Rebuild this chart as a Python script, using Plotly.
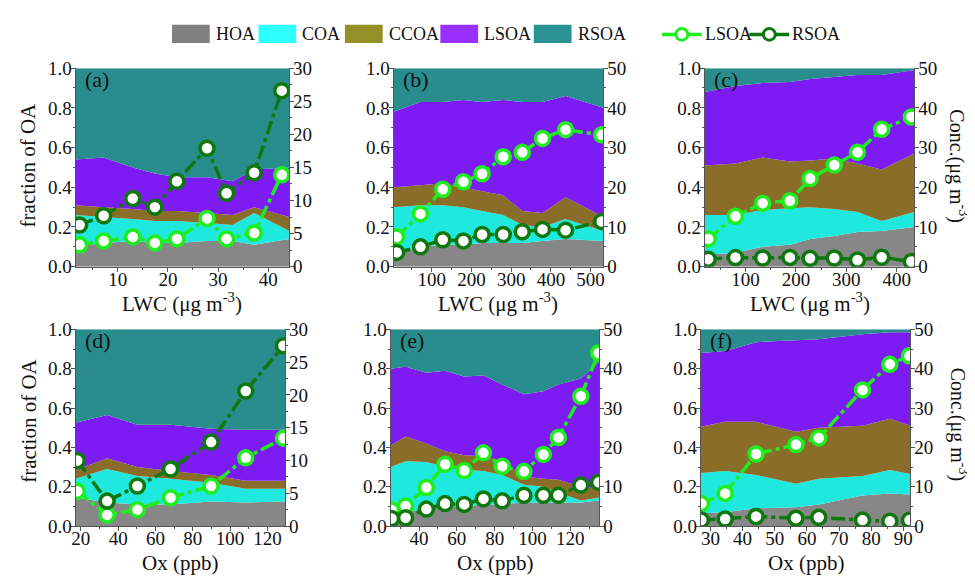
import plotly.graph_objects as go

W, H = 975, 583
OFF = 8  # page body margin of the browser
FONT = "Liberation Serif"

comp_names = ["HOA", "COA", "CCOA", "LSOA", "RSOA"]
area_colors = ["#878787", "#1FE8DF", "#8A6D29", "#7C1CF2", "#298D8D"]
legend_colors = ["#808080", "#2EFFFF", "#949028", "#9A30FF", "#2A9292"]
lsoa_color = "#1EEE1E"
rsoa_color = "#0E780E"

panel_labels = ["(a)", "(b)", "(c)", "(d)", "(e)", "(f)"]

# ---------------- panel (a): LWC ----------------
a_line_x = [2.4, 7.2, 13.0, 17.4, 21.8, 27.8, 31.7, 37.2, 42.7]
a_area_x = [1.6, 7.2, 13.0, 17.4, 21.8, 27.8, 32.9, 37.2, 44.2]
a_hoa = [0.10, 0.12, 0.13, 0.12, 0.12, 0.13, 0.13, 0.11, 0.14]
a_coa = [0.16, 0.13, 0.11, 0.11, 0.11, 0.09, 0.08, 0.16, 0.04]
a_ccoa = [0.05, 0.05, 0.05, 0.05, 0.05, 0.05, 0.05, 0.03, 0.07]
a_lsoa = [0.23, 0.25, 0.21, 0.19, 0.17, 0.18, 0.17, 0.19, 0.25]
a_rsoa = [0.46, 0.45, 0.50, 0.53, 0.55, 0.55, 0.57, 0.51, 0.50]
a_lsoa_conc = [3.3, 3.9, 4.5, 3.6, 4.2, 7.3, 4.2, 5.1, 13.9]
a_rsoa_conc = [6.3, 7.7, 10.3, 9.0, 12.9, 17.9, 11.1, 14.2, 26.6]

# ---------------- panel (b): LWC ----------------
b_line_x = [12, 72, 128, 180, 227, 280, 328, 379, 437, 528]
b_area_x = [4.4, 72, 128, 180, 227, 280, 328, 379, 437, 532]
b_hoa = [0.06, 0.10, 0.11, 0.11, 0.12, 0.12, 0.12, 0.13, 0.14, 0.13]
b_coa = [0.24, 0.21, 0.20, 0.19, 0.16, 0.14, 0.09, 0.07, 0.10, 0.05]
b_ccoa = [0.10, 0.10, 0.11, 0.10, 0.10, 0.10, 0.07, 0.07, 0.11, 0.07]
b_lsoa = [0.38, 0.42, 0.41, 0.44, 0.45, 0.48, 0.55, 0.56, 0.51, 0.55]
b_rsoa = [0.22, 0.17, 0.17, 0.16, 0.17, 0.16, 0.17, 0.17, 0.14, 0.20]
b_lsoa_conc = [7.5, 13.3, 19.5, 21.4, 23.4, 27.7, 28.8, 32.3, 34.5, 33.2]
b_rsoa_conc = [3.6, 5.0, 6.8, 6.5, 8.1, 8.1, 8.8, 9.4, 9.2, 11.4]

# ---------------- panel (c): LWC ----------------
c_line_x = [26, 80, 134, 188, 228, 276, 322, 370, 429]
c_area_x = [19, 80, 134, 188, 228, 276, 322, 370, 435]
c_hoa = [0.06, 0.07, 0.10, 0.11, 0.14, 0.155, 0.175, 0.18, 0.20]
c_coa = [0.20, 0.19, 0.185, 0.185, 0.16, 0.135, 0.10, 0.05, 0.075]
c_ccoa = [0.25, 0.26, 0.265, 0.235, 0.235, 0.255, 0.245, 0.26, 0.295]
c_lsoa = [0.37, 0.39, 0.375, 0.40, 0.41, 0.41, 0.445, 0.475, 0.42]
c_rsoa = [0.12, 0.09, 0.075, 0.07, 0.055, 0.045, 0.035, 0.035, 0.01]
c_lsoa_conc = [7.0, 12.7, 16.0, 16.6, 22.2, 25.6, 28.8, 34.6, 37.7]
c_rsoa_conc = [1.9, 2.3, 2.2, 2.35, 2.1, 2.2, 1.7, 2.4, 1.3]

# ---------------- panel (d): Ox ----------------
d_line_x = [18.1, 34.1, 50.3, 68.1, 89.8, 108.4, 128.6]
d_area_x = [17.2, 34.1, 50.3, 68.1, 89.8, 108.4, 129.6]
d_hoa = [0.145, 0.12, 0.11, 0.11, 0.125, 0.12, 0.125]
d_coa = [0.095, 0.17, 0.145, 0.13, 0.095, 0.07, 0.065]
d_ccoa = [0.045, 0.055, 0.045, 0.04, 0.04, 0.04, 0.04]
d_lsoa = [0.24, 0.22, 0.215, 0.235, 0.235, 0.26, 0.26]
d_rsoa = [0.475, 0.435, 0.485, 0.485, 0.505, 0.51, 0.51]
d_lsoa_conc = [5.3, 1.7, 2.5, 4.3, 6.1, 10.4, 13.4]
d_rsoa_conc = [10.0, 3.8, 6.1, 8.7, 12.8, 20.6, 27.5]

# ---------------- panel (e): Ox ----------------
e_line_x = [25.5, 32.9, 43.9, 53.8, 63.9, 74.1, 84.0, 95.5, 105.8, 113.7, 125.6, 135.0]
e_area_x = [25.0, 32.9, 43.9, 53.8, 63.9, 74.1, 84.0, 95.5, 105.8, 113.7, 125.6, 135.4]
e_hoa = [0.05, 0.07, 0.09, 0.10, 0.10, 0.11, 0.11, 0.12, 0.12, 0.12, 0.12, 0.13]
e_coa = [0.25, 0.26, 0.235, 0.20, 0.185, 0.17, 0.15, 0.09, 0.08, 0.05, 0.01, 0.015]
e_ccoa = [0.11, 0.125, 0.095, 0.08, 0.075, 0.075, 0.07, 0.04, 0.04, 0.065, 0.07, 0.045]
e_lsoa = [0.39, 0.355, 0.36, 0.41, 0.40, 0.41, 0.39, 0.42, 0.445, 0.485, 0.55, 0.645]
e_rsoa = [0.20, 0.19, 0.22, 0.21, 0.24, 0.235, 0.28, 0.33, 0.315, 0.28, 0.25, 0.165]
e_lsoa_conc = [4.1, 5.1, 9.8, 15.7, 14.1, 18.6, 15.2, 13.9, 18.2, 22.5, 33.0, 44.0]
e_rsoa_conc = [1.9, 2.1, 4.3, 5.7, 5.5, 6.9, 6.4, 7.8, 7.8, 7.8, 10.4, 11.1]

# ---------------- panel (f): Ox ----------------
f_line_x = [27.2, 34.6, 44.2, 56.6, 63.7, 77.3, 85.8, 91.9]
f_area_x = [27.0, 34.6, 44.2, 56.6, 63.7, 77.3, 85.8, 92.2]
f_hoa = [0.065, 0.07, 0.09, 0.095, 0.11, 0.155, 0.165, 0.16]
f_coa = [0.205, 0.21, 0.17, 0.12, 0.13, 0.10, 0.12, 0.105]
f_ccoa = [0.235, 0.25, 0.27, 0.265, 0.26, 0.255, 0.26, 0.245]
f_lsoa = [0.375, 0.36, 0.405, 0.465, 0.45, 0.465, 0.44, 0.475]
f_rsoa = [0.12, 0.11, 0.065, 0.055, 0.05, 0.025, 0.015, 0.015]
f_lsoa_conc = [5.7, 8.3, 18.3, 20.7, 22.4, 34.6, 41.1, 43.3]
f_rsoa_conc = [1.5, 1.8, 2.4, 2.0, 2.2, 1.5, 1.2, 1.5]

panels = [
    dict(line_x=a_line_x, area_x=a_area_x, comps=[a_hoa, a_coa, a_ccoa, a_lsoa, a_rsoa],
         lsoa=a_lsoa_conc, rsoa=a_rsoa_conc, xr=[1.6, 44.2], xd=10, xm=5, yr=30, yd=5, ym=2.5,
         px=(72, 287, 60, 266)),
    dict(line_x=b_line_x, area_x=b_area_x, comps=[b_hoa, b_coa, b_ccoa, b_lsoa, b_rsoa],
         lsoa=b_lsoa_conc, rsoa=b_rsoa_conc, xr=[4.4, 532], xd=100, xm=50, yr=50, yd=10, ym=5,
         px=(392, 603, 60, 266)),
    dict(line_x=c_line_x, area_x=c_area_x, comps=[c_hoa, c_coa, c_ccoa, c_lsoa, c_rsoa],
         lsoa=c_lsoa_conc, rsoa=c_rsoa_conc, xr=[19, 435], xd=100, xm=50, yr=50, yd=10, ym=5,
         px=(705, 916, 60, 266)),
    dict(line_x=d_line_x, area_x=d_area_x, comps=[d_hoa, d_coa, d_ccoa, d_lsoa, d_rsoa],
         lsoa=d_lsoa_conc, rsoa=d_rsoa_conc, xr=[17.2, 129.6], xd=20, xm=10, yr=30, yd=5, ym=2.5,
         px=(72, 283, 331, 535)),
    dict(line_x=e_line_x, area_x=e_area_x, comps=[e_hoa, e_coa, e_ccoa, e_lsoa, e_rsoa],
         lsoa=e_lsoa_conc, rsoa=e_rsoa_conc, xr=[25.0, 135.4], xd=20, xm=10, yr=50, yd=10, ym=5,
         px=(389, 599, 331, 535)),
    dict(line_x=f_line_x, area_x=f_area_x, comps=[f_hoa, f_coa, f_ccoa, f_lsoa, f_rsoa],
         lsoa=f_lsoa_conc, rsoa=f_rsoa_conc, xr=[27.0, 92.2], xd=10, xm=5, yr=50, yd=10, ym=5,
         px=(701, 912, 331, 535)),
]


def px_x(v):
    return (v - OFF) / W


def px_y(v):
    return 1 - (v - OFF) / H


def ref(kind, i):
    return kind if i == 1 else f"{kind}{i}"


def lkey(kind, i):
    return f"{kind}axis" if i == 1 else f"{kind}axis{i}"


fig = go.Figure()
layout = dict(
    width=W, height=H, autosize=False,
    margin=dict(l=0, r=0, t=0, b=0),
    paper_bgcolor="white", plot_bgcolor="white",
    showlegend=False,
    font=dict(family=FONT, size=19, color="#111"),
)

AX_COLOR = "#555555"
line_dash = "14px,4px,4px,4px"

annotations = []
shapes = []

for k, p in enumerate(panels):
    i = k + 1
    xa, ya, ya2 = ref("x", i), ref("y", i), ref("y", i + 6)
    for name, vals, col in zip(comp_names, p["comps"], area_colors):
        fig.add_trace(go.Scatter(
            x=p["area_x"], y=vals, name=name, stackgroup=f"s{i}", mode="none",
            fillcolor=col, line=dict(width=0), xaxis=xa, yaxis=ya,
            hoverinfo="skip", showlegend=False))
    for name, vals, col in [("LSOA", p["lsoa"], lsoa_color), ("RSOA", p["rsoa"], rsoa_color)]:
        fig.add_trace(go.Scatter(
            x=p["line_x"], y=vals, name=name, mode="lines+markers",
            line=dict(color=col, width=3.5, dash=line_dash),
            marker=dict(size=14, color="white", line=dict(color=col, width=3.5)),
            xaxis=xa, yaxis=ya2, showlegend=False))

    x0, x1, y0, y1 = p["px"]
    common_ax = dict(showline=True, linecolor=AX_COLOR, linewidth=1, ticks="outside",
                     tickcolor=AX_COLOR, ticklen=4, tickwidth=1, showgrid=False, zeroline=False,
                     tickfont=dict(family=FONT, size=19, color="#111"))
    layout[lkey("x", i)] = dict(
        domain=[px_x(x0), px_x(x1)], anchor=ya, range=p["xr"], dtick=p["xd"], tick0=0,
        ticklabelstandoff=-9,
        minor=dict(ticks="outside", ticklen=2, dtick=p["xm"], tick0=0, tickcolor=AX_COLOR),
        **common_ax)
    layout[lkey("y", i)] = dict(
        domain=[px_y(y1), px_y(y0)], anchor=xa, range=[0, 1], dtick=0.2, tick0=0,
        tickformat=".1f", ticklabelstandoff=-5,
        minor=dict(ticks="outside", ticklen=2, dtick=0.1, tickcolor=AX_COLOR),
        **common_ax)
    layout[lkey("y", i + 6)] = dict(
        overlaying=ya, anchor=xa, side="right", range=[0, p["yr"]], dtick=p["yd"], tick0=0,
        ticklabelstandoff=-5,
        minor=dict(ticks="outside", ticklen=2, dtick=p["ym"], tickcolor=AX_COLOR),
        **common_ax)

    annotations.append(dict(
        text=panel_labels[k], xref="paper", yref="paper",
        x=px_x(x0 + 7), y=px_y(y0 - 3), xanchor="left", yanchor="top",
        showarrow=False, font=dict(family=FONT, size=22, color="#111")))

    # x axis titles
    title = "LWC (μg m<sup>-3</sup>)" if k < 3 else "Ox (ppb)"
    ty = 303 if k < 3 else 573
    annotations.append(dict(
        text=title, xref="paper", yref="paper", x=px_x((x0 + x1) / 2), y=px_y(ty),
        xanchor="center", yanchor="middle", showarrow=False,
        font=dict(family=FONT, size=21, color="#111")))

# left / right axis titles
for yl, yr_ in ((161, 162), (426, 430)):
    annotations.append(dict(
        text="fraction of OA", xref="paper", yref="paper", x=px_x(25), y=px_y(yl),
        xanchor="center", yanchor="middle", textangle=-90, showarrow=False,
        font=dict(family=FONT, size=21, color="#111")))
    annotations.append(dict(
        text="Conc.(μg m<sup>-3</sup>)", xref="paper", yref="paper", x=px_x(960), y=px_y(yr_),
        xanchor="center", yanchor="middle", textangle=90, showarrow=False,
        font=dict(family=FONT, size=20, color="#111")))

# ---------------- custom legend ----------------
box_left = [169, 256, 343, 439, 533]
box_w = 38
for name, col, bx in zip(comp_names, legend_colors, box_left):
    shapes.append(dict(type="rect", xref="paper", yref="paper",
                       x0=px_x(bx), x1=px_x(bx + box_w), y0=px_y(34), y1=px_y(15),
                       fillcolor=col, line=dict(width=0)))
    annotations.append(dict(text=name, xref="paper", yref="paper",
                            x=px_x(bx + box_w + 4), y=px_y(25), xanchor="left", yanchor="middle",
                            showarrow=False, font=dict(family=FONT, size=18, color="#111")))

for name, col, lx in [("LSOA", lsoa_color, 662), ("RSOA", rsoa_color, 750)]:
    shapes.append(dict(type="line", xref="paper", yref="paper",
                       x0=px_x(lx), x1=px_x(lx + 40), y0=px_y(25), y1=px_y(25),
                       line=dict(color=col, width=3.5)))
    shapes.append(dict(type="circle", xref="paper", yref="paper",
                       x0=px_x(lx + 14), x1=px_x(lx + 26), y0=px_y(31), y1=px_y(19),
                       fillcolor="white", line=dict(color=col, width=3)))
    annotations.append(dict(text=name, xref="paper", yref="paper",
                            x=px_x(lx + 41), y=px_y(25), xanchor="left", yanchor="middle",
                            showarrow=False, font=dict(family=FONT, size=18, color="#111")))

layout["annotations"] = annotations
layout["shapes"] = shapes
fig.update_layout(**layout)

fig.write_html("out.html")
